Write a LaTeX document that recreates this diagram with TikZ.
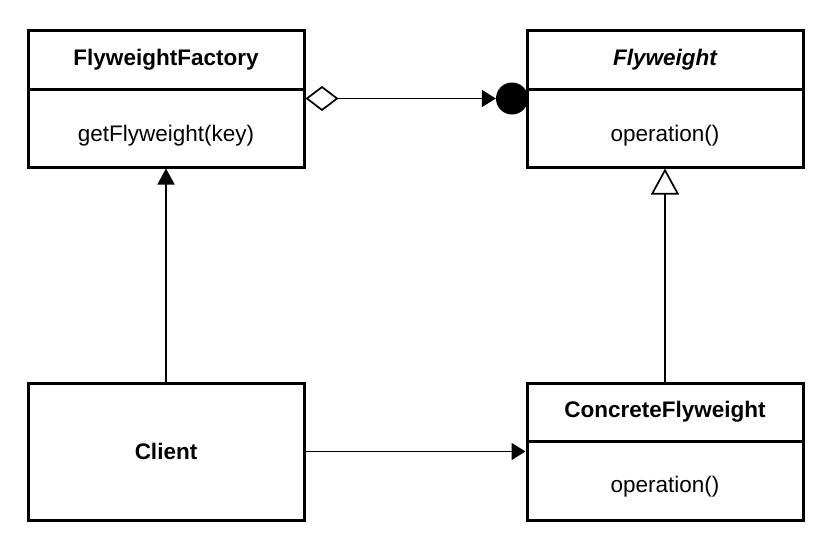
\documentclass[tikz,border=0pt]{standalone}
\usepackage{fontspec}
\setmainfont{Liberation Sans}
\usetikzlibrary{arrows.meta}
\begin{document}
\begin{tikzpicture}[x=1pt,y=-1pt,
  box/.style={draw, line width=3pt, inner sep=0pt, rectangle, minimum width=276pt},
  lbl/.style={inner sep=0pt, font=\fontsize{22.5}{26}\selectfont},
  ttl/.style={inner sep=0pt, font=\fontsize{22.5}{26}\selectfont\bfseries},
  conn/.style={line width=1.7pt},
]
\useasboundingbox (0,0) rectangle (829,551);
% FlyweightFactory
\node[box, minimum height=58pt] (ffh) at (166,60) {};
\node[box, minimum height=78pt] (ffb) at (166,128) {};
\node[ttl] (fft) at (166,60) {FlyweightFactory};
\node[lbl] (ffm) at (166,136) {getFlyweight(key)};
% Flyweight
\node[box, minimum height=58pt] (fwh) at (665,60) {};
\node[box, minimum height=78pt] (fwb) at (665,128) {};
\node[ttl, font=\fontsize{22.5}{26}\selectfont\bfseries\itshape] (fwt) at (665,60) {Flyweight};
\node[lbl] (fwm) at (665,136) {operation()};
% Client
\node[box, minimum height=137pt] (cl) at (166,451.5) {};
\node[ttl] (clt) at (166,451.5) {Client};
% ConcreteFlyweight
\node[box, minimum height=58pt] (cfh) at (665,412) {};
\node[box, minimum height=79pt] (cfb) at (665,480.5) {};
\node[ttl] (cft) at (665,412) {ConcreteFlyweight};
\node[lbl] (cfm) at (665,487) {operation()};
% dot
\node[circle, fill=black, minimum size=32pt, inner sep=0pt] (dot) at (512,98.5) {};
% connectors
\draw[conn, {Diamond[open,length=33pt,width=25pt]}-{Triangle[length=14pt,width=17pt]}]
  (dot.west -| ffb.east) -- (dot.west);
\draw[conn, -{Triangle[length=16pt,width=17pt]}] (cl.north) -- (ffb.south);
\draw[conn, -{Triangle[open,length=26pt,width=28pt]}] (cfh.north) -- (fwb.south);
\draw[conn, -{Triangle[length=14pt,width=17pt]}] (cl.east) -- (cl.east -| cfh.west);
\end{tikzpicture}
\end{document}
